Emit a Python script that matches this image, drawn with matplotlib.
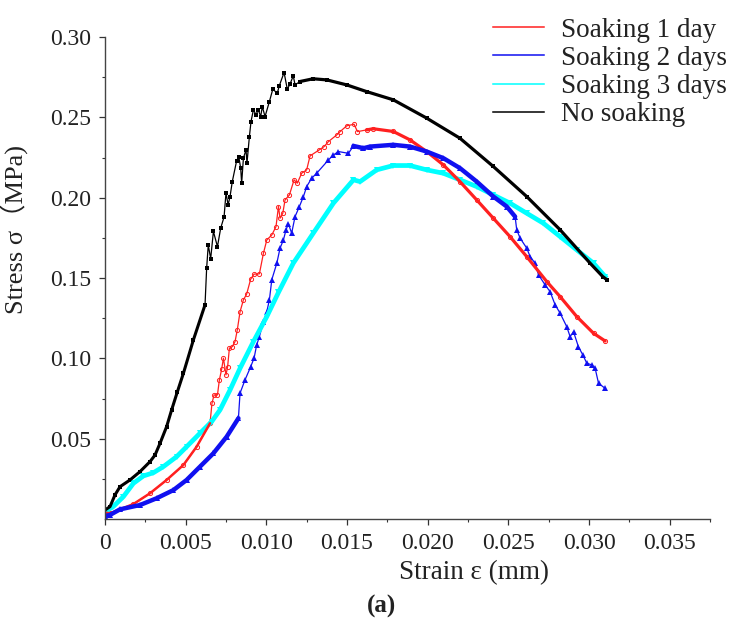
import matplotlib
matplotlib.use("Agg")
import matplotlib.pyplot as plt
from matplotlib.lines import Line2D

plt.rcParams['font.family'] = ['Liberation Serif', 'Noto Sans CJK SC', 'DejaVu Sans']

# No soaking (black, squares)
x_none = [0.0, 0.00031, 0.00062, 0.00093, 0.00155, 0.00217, 0.00279, 0.0031, 0.00341, 0.00382, 0.00413,
          0.00448, 0.00486, 0.00548, 0.0062,
          0.0063, 0.0064, 0.00655, 0.00672, 0.00697, 0.00717, 0.00738, 0.0075, 0.00763, 0.00775, 0.00789,
          0.00816, 0.00829, 0.00841, 0.00847, 0.00858, 0.00874, 0.0088, 0.00895, 0.00905, 0.0092, 0.00936,
          0.0095, 0.00965, 0.00975, 0.00992, 0.01019, 0.0104, 0.01068, 0.0108, 0.0111, 0.0113, 0.01147,
          0.01167, 0.01178, 0.01209, 0.0129, 0.01375, 0.01498, 0.01622, 0.01787, 0.01994, 0.022, 0.02407,
          0.02614, 0.02821, 0.03007, 0.03085, 0.0311]
y_none = [0.0056, 0.0077, 0.015, 0.0201, 0.0243, 0.0295, 0.0357, 0.0398, 0.0471, 0.0575, 0.0679,
          0.079, 0.0907, 0.1115, 0.1333,
          0.156, 0.1706, 0.162, 0.179, 0.1695, 0.181, 0.188, 0.203, 0.1955, 0.2007, 0.210,
          0.223, 0.2256, 0.2184, 0.209, 0.2246, 0.2298, 0.2215, 0.238, 0.2474, 0.2547, 0.2516,
          0.2547, 0.2505, 0.2567, 0.2505, 0.2598, 0.2675, 0.265, 0.2696, 0.2779, 0.2675, 0.2708,
          0.2758, 0.2702, 0.2723, 0.274, 0.2733, 0.2702, 0.266, 0.2609, 0.2495, 0.237, 0.2194,
          0.2007, 0.180, 0.1592, 0.1509, 0.149]

# Soaking 1 day (red, open circles)
x_1d = [0.0, 0.0003, 0.00176, 0.00279, 0.00382, 0.00486, 0.00568, 0.00651, 0.00663, 0.00676, 0.00697,
        0.00709, 0.00723, 0.00734, 0.0075, 0.0076, 0.00771, 0.00789, 0.00806, 0.0082, 0.00837, 0.00858,
        0.00878, 0.00903, 0.00924, 0.00957, 0.00982, 0.01003, 0.01034, 0.0106, 0.01075, 0.01085, 0.01102,
        0.01116, 0.01143, 0.01172, 0.01192, 0.01219, 0.0125, 0.01271, 0.01329, 0.01358, 0.01385, 0.01437,
        0.01457, 0.01498, 0.01544, 0.01565, 0.01622, 0.01663, 0.01787, 0.0189, 0.01994, 0.02097, 0.022,
        0.02304, 0.02407, 0.0251, 0.02614, 0.02738, 0.02821, 0.02924, 0.03028, 0.031]
y_1d = [0.004, 0.0035, 0.0093, 0.016, 0.0243, 0.0336, 0.045, 0.0596, 0.072, 0.0772, 0.0772,
        0.0866, 0.0932, 0.1001, 0.0897, 0.0948, 0.1063, 0.1073, 0.1104, 0.1177, 0.129, 0.1364,
        0.1400, 0.1493, 0.1524, 0.1526, 0.1654, 0.1737, 0.1768, 0.182, 0.1945, 0.1872, 0.1903,
        0.1986, 0.2017, 0.2111, 0.209, 0.2152, 0.2173, 0.226, 0.2298, 0.2318, 0.2349, 0.2391,
        0.2411, 0.2447, 0.2457, 0.2411, 0.2422, 0.2429, 0.2412, 0.236, 0.2287, 0.2204, 0.210,
        0.1986, 0.1872, 0.1758, 0.1633, 0.1478, 0.1384, 0.126, 0.1156, 0.1108]

# Soaking 2 days (blue, triangles)
x_2d = [0.0, 0.0003, 0.00093, 0.00217, 0.0032, 0.00424, 0.00506, 0.00589, 0.00672, 0.00754, 0.00827,
        0.00837, 0.00868, 0.00903, 0.00924, 0.0094, 0.00957, 0.00982, 0.01003, 0.01019, 0.01034, 0.01065,
        0.01085, 0.01106, 0.01122, 0.01137, 0.01157, 0.01178, 0.01205, 0.0123, 0.0125, 0.01281, 0.01312,
        0.01385, 0.01416, 0.01447, 0.01509, 0.0154, 0.01602, 0.01643, 0.01787, 0.0189, 0.01994, 0.02097,
        0.022, 0.02304, 0.02407, 0.0249, 0.02542, 0.02552, 0.02573, 0.02614, 0.02635, 0.02666, 0.02687,
        0.02728, 0.02759, 0.0279, 0.02821, 0.02862, 0.02883, 0.02904, 0.02934, 0.02962, 0.02986, 0.03017,
        0.03038, 0.03059, 0.031]
y_2d = [0.0019, 0.0025, 0.006, 0.0087, 0.0129, 0.018, 0.0243, 0.0326, 0.0409, 0.0512, 0.0627,
        0.0783, 0.0866, 0.0948, 0.1001, 0.1083, 0.1135, 0.1229, 0.1291, 0.1364, 0.1490, 0.1592,
        0.1686, 0.1737, 0.18, 0.1837, 0.1779, 0.1882, 0.1945, 0.2007, 0.2069, 0.2121, 0.2152,
        0.2235, 0.2266, 0.2287, 0.2276, 0.2322, 0.2308, 0.2318, 0.2329, 0.2318, 0.2287, 0.2246,
        0.2184, 0.21, 0.2007, 0.1945, 0.1882, 0.180, 0.1748, 0.1686, 0.1633, 0.1592, 0.152,
        0.1457, 0.1415, 0.1333, 0.1281, 0.1197, 0.1135, 0.1166, 0.1073, 0.1021, 0.097, 0.0959,
        0.0938, 0.0845, 0.0813]

# Soaking 3 days (cyan, down triangles)
x_3d = [0.0, 0.0001, 0.00051, 0.00114, 0.00176, 0.00238, 0.003, 0.00362, 0.00444, 0.00506, 0.00589,
        0.00661, 0.00713, 0.00775, 0.00837, 0.0092, 0.01003, 0.01075, 0.01167, 0.01291, 0.01416,
        0.0154, 0.01581, 0.01684, 0.01787, 0.0189, 0.01994, 0.02097, 0.022, 0.02304, 0.02407, 0.0251,
        0.02614, 0.02717, 0.02821, 0.02924, 0.03028, 0.031]
y_3d = [0.005, 0.0052, 0.0077, 0.0139, 0.0222, 0.0268, 0.0288, 0.0326, 0.0388, 0.045, 0.0534,
        0.0606, 0.0679, 0.0803, 0.0938, 0.1104, 0.126, 0.141, 0.1592, 0.1779, 0.1966,
        0.2111, 0.21, 0.2173, 0.22, 0.22, 0.2173, 0.2152, 0.2111, 0.2069, 0.2017, 0.1966,
        0.1903, 0.1841, 0.1758, 0.1675, 0.1592, 0.1509]

labels = ['Soaking 1 day', 'Soaking 2 days', 'Soaking 3 days', 'No soaking']
colors = ['#ff2020', '#1010f0', '#00ffff', '#000000']

x_ticks = [0, 0.005, 0.010, 0.015, 0.020, 0.025, 0.030, 0.035]
x_ticklabels = ['0', '0.005', '0.010', '0.015', '0.020', '0.025', '0.030', '0.035']
y_ticks = [0.05, 0.10, 0.15, 0.20, 0.25, 0.30]
y_ticklabels = ['0.05', '0.10', '0.15', '0.20', '0.25', '0.30']

fig = plt.figure(figsize=(7.32, 6.28), dpi=100)
ax = fig.add_axes([105 / 732, 1 - 519 / 628, 605 / 732, 482 / 628])

# thin lines with markers
ax.plot(x_none, y_none, color=colors[3], lw=0.9, marker='s', ms=2.8, mew=0)
ax.plot(x_1d, y_1d, color=colors[0], lw=0.9, marker='o', ms=3.0, mfc='none', mew=0.7)
ax.plot(x_2d, y_2d, color=colors[1], lw=0.9, marker='^', ms=4, mew=0)
ax.plot(x_3d, y_3d, color=colors[2], lw=3.4, marker='v', ms=4.5, mew=0)
# smooth, densely sampled stretches look like thick lines
ax.plot(x_none[:15], y_none[:15], color=colors[3], lw=2.2, solid_capstyle='round')
ax.plot(x_none[50:], y_none[50:], color=colors[3], lw=2.3, solid_capstyle='round')
ax.plot(x_1d[:8], y_1d[:8], color=colors[0], lw=1.8, solid_capstyle='round')
ax.plot(x_1d[48:], y_1d[48:], color=colors[0], lw=2.3, solid_capstyle='round')
ax.plot(x_2d[:11], y_2d[:11], color=colors[1], lw=3.2, solid_capstyle='round')
ax.plot(x_2d[37:49], y_2d[37:49], color=colors[1], lw=3.2, solid_capstyle='round')

ax.set_xlim(0, 0.0375)
ax.set_ylim(0, 0.30)
ax.set_xticks(x_ticks)
ax.set_xticklabels(x_ticklabels)
ax.set_yticks(y_ticks)
ax.set_yticklabels(y_ticklabels)
ax.set_xticks([0.0025, 0.0075, 0.0125, 0.0175, 0.0225, 0.0275, 0.0325, 0.0375], minor=True)
ax.set_yticks([0.025, 0.075, 0.125, 0.175, 0.225, 0.275], minor=True)
ax.tick_params(which='major', direction='out', length=4, width=0.9, labelsize=17, pad=6, colors='#333333',
               labelcolor='#222222')
ax.tick_params(which='minor', direction='out', length=2.5, width=0.8, colors='#333333')
for s in ['top', 'right']:
    ax.spines[s].set_visible(False)
for s in ['left', 'bottom']:
    ax.spines[s].set_color('#444444')
    ax.spines[s].set_linewidth(1.0)

ax.set_ylabel('Stress σ（MPa)', fontsize=19, color='#222222')
ax.yaxis.set_label_coords(-0.125, 0.6)
ax.set_xlabel('Strain ε (mm)', fontsize=19.5, color='#222222')
ax.xaxis.set_label_coords(0.61, -0.085)

handles = [Line2D([], [], color=c, lw=1.1) for c in colors]
fig.legend(handles, labels, loc='upper left', bbox_to_anchor=(493 / 732, 0.972), frameon=False,
           fontsize=19.5, handlelength=1.9, handletextpad=0.6, labelspacing=0.12,
           borderpad=0, borderaxespad=0, labelcolor='#222222')

fig.text(382 / 732, 1 - 606 / 628, '(a)', fontsize=18, fontweight='bold', ha='center', va='center',
         color='#222222')

fig.savefig('out.png', dpi=100)
